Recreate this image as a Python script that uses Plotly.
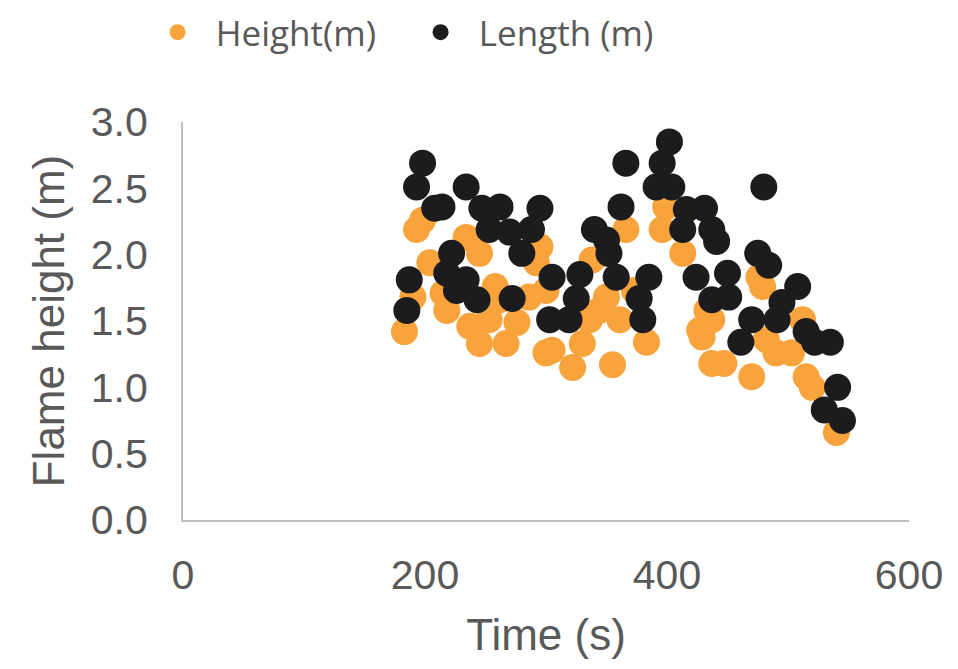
import plotly.graph_objects as go

# Height (m) series (orange)
height_time = [183, 190, 193, 198, 204, 215, 218, 234, 237, 245, 245, 253, 258, 262, 267, 276,
               286, 292, 295, 300, 300, 305, 322, 330, 336, 338, 344, 350, 355, 361, 366, 373,
               383, 396, 399, 413, 427, 429, 433, 437, 437, 447, 470, 476, 479, 482, 490, 503,
               512, 515, 520, 540]
height_val = [1.42, 1.68, 2.19, 2.26, 1.94, 1.71, 1.58, 2.13, 1.46, 2.01, 1.33, 1.51, 1.76, 1.66, 1.33, 1.49,
              1.68, 1.94, 2.06, 1.26, 1.73, 1.28, 1.15, 1.33, 1.51, 1.96, 1.58, 1.68, 1.17, 1.51, 2.19, 1.73,
              1.34, 2.19, 2.36, 2.01, 1.43, 1.38, 1.58, 1.51, 1.18, 1.18, 1.08, 1.83, 1.76, 1.36, 1.26, 1.26,
              1.51, 1.08, 1.00, 0.66]

# Length (m) series (black)
length_time = [185, 187, 193, 198, 208, 214, 218, 222, 226, 234, 234, 243, 247, 253, 262, 270,
               272, 280, 288, 295, 303, 305, 319, 325, 328, 340, 350, 352, 358, 362, 366, 377,
               380, 385, 391, 396, 402, 404, 413, 416, 424, 431, 437, 441, 437, 450, 451, 461,
               470, 475, 480, 484, 491, 495, 508, 515, 522, 535, 541, 530, 545]
length_val = [1.58, 1.81, 2.51, 2.69, 2.35, 2.36, 1.86, 2.01, 1.73, 2.51, 1.81, 1.66, 2.35, 2.19, 2.36, 2.17,
              1.67, 2.01, 2.19, 2.35, 1.51, 1.83, 1.51, 1.67, 1.85, 2.19, 2.11, 2.01, 1.83, 2.36, 2.69, 1.67,
              1.51, 1.83, 2.51, 2.69, 2.85, 2.51, 2.19, 2.34, 1.83, 2.35, 2.19, 2.10, 1.66, 1.86, 1.68, 1.34,
              1.51, 2.01, 2.51, 1.92, 1.51, 1.64, 1.76, 1.42, 1.34, 1.34, 1.00, 0.83, 0.75]

x_ticks = [0, 200, 400, 600]
y_ticks = [0.0, 0.5, 1.0, 1.5, 2.0, 2.5, 3.0]

ORANGE = "#F8A33B"
BLACK = "#1C1C1F"
GREY_TXT = "#595959"
AXIS = "#BFBFBF"
NB = "\u00a0\u00a0"

fig = go.Figure()
fig.add_trace(go.Scatter(x=height_time, y=height_val, mode="markers", name=NB + "Height(m)",
                         marker=dict(size=27, color=ORANGE, line=dict(width=0))))
fig.add_trace(go.Scatter(x=length_time, y=length_val, mode="markers", name=NB + "Length (m)",
                         marker=dict(size=27, color=BLACK, line=dict(width=0))))

fig.update_layout(
    width=950, height=661,
    paper_bgcolor="white", plot_bgcolor="white",
    margin=dict(l=175, r=49, t=114, b=149, autoexpand=False),
    showlegend=True,
    legend=dict(orientation="h", x=-0.035, xanchor="left", y=1.225, yanchor="middle",
                font=dict(family="Open Sans", size=35, color=GREY_TXT),
                itemsizing="trace", bgcolor="rgba(0,0,0,0)", entrywidth=218),
    xaxis=dict(range=[0, 600], tickvals=x_ticks, ticktext=[str(v) for v in x_ticks],
               showgrid=False, zeroline=False, showline=True, linecolor=AXIS, linewidth=2,
               ticks="", ticklabelstandoff=18,
               tickfont=dict(family="Liberation Sans", size=41, color=GREY_TXT),
               title=dict(text="Time (s)", standoff=22,
                          font=dict(family="Liberation Sans", size=44, color=GREY_TXT))),
    yaxis=dict(range=[0, 3.0], tickvals=y_ticks, ticktext=[f"{v:.1f}" for v in y_ticks],
               showgrid=False, zeroline=False, showline=True, linecolor=AXIS, linewidth=2,
               ticks="", ticklabelstandoff=25,
               tickfont=dict(family="Liberation Sans", size=41, color=GREY_TXT),
               title=dict(text="Flame height (m)", standoff=12,
                          font=dict(family="Liberation Sans", size=44, color=GREY_TXT))),
)

fig.write_html("out.html")
